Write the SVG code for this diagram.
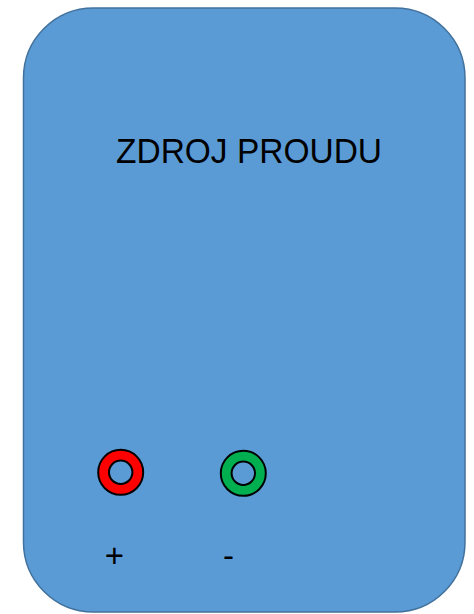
<svg xmlns="http://www.w3.org/2000/svg" width="474" height="614" viewBox="0 0 474 614">
<style>
.t{font-family:"Liberation Sans",Arial,sans-serif;fill:#000}
.ring{fill-rule:evenodd;stroke:#000;stroke-width:2}
</style>
<rect width="474" height="614" fill="#fff"/>
<g id="zdroj">
<rect x="23.5" y="8" width="441.5" height="604" rx="70" ry="70" fill="#5b9bd5" stroke="#41719c" stroke-width="1.5"/>
<text class="t" x="249" y="163" font-size="35" text-anchor="middle" textLength="266" lengthAdjust="spacingAndGlyphs">ZDROJ PROUDU</text>
</g>
<g id="plus">
<path class="ring" fill="#ff0000" d="M98.2,472.3a22.5,22.5 0 1,0 45,0a22.5,22.5 0 1,0 -45,0ZM109,472.3a11.7,11.7 0 1,0 23.4,0a11.7,11.7 0 1,0 -23.4,0Z"/>
<text class="t" x="114.5" y="567" font-size="33" text-anchor="middle">+</text>
</g>
<g id="minus">
<path class="ring" fill="#00b050" d="M220.8,473.3a22.5,22.5 0 1,0 45,0a22.5,22.5 0 1,0 -45,0ZM231.6,473.3a11.7,11.7 0 1,0 23.4,0a11.7,11.7 0 1,0 -23.4,0Z"/>
<text class="t" x="228.5" y="567" font-size="33" text-anchor="middle">-</text>
</g>
<g id="connectors"/>
</svg>
